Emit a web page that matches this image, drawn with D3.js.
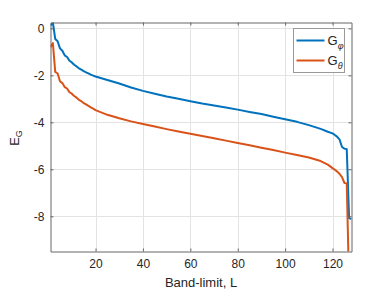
<!DOCTYPE html>
<html lang="en">
<head>
    <script src="https://d3js.org/d3.v7.min.js"></script>
    <style>
        body { margin: 0; background: #fff; }
        text { font-family: "Liberation Sans", Arial, sans-serif; fill: #262626; }
        .grid line { stroke: #e3e3e3; stroke-width: 1; }
        .line { fill: none; stroke-width: 2; stroke-linejoin: round; }
    </style>
</head>
<body>
<div id="chart"></div>
<script>
    var L = [1, 2, 3, 4, 5, 6, 7, 8, 9, 10, 11, 12, 13, 14, 15, 16, 17, 18, 19, 20,
             25, 30, 35, 40, 45, 50, 55, 60, 65, 70, 75, 80, 85, 90, 95, 100, 105, 110, 115,
             118, 120, 121, 122, 123, 124, 125, 126, 127, 128];
    var gPhi = [0.12, 0.25, -0.45, -0.55, -0.85, -0.95, -1.15, -1.22, -1.38, -1.45, -1.55, -1.62, -1.7, -1.76, -1.82, -1.87, -1.92, -1.97, -2.01, -2.05,
                -2.2, -2.35, -2.52, -2.66, -2.78, -2.9, -3.0, -3.1, -3.2, -3.28, -3.37, -3.46, -3.56, -3.65, -3.76, -3.87, -3.98, -4.12, -4.28,
                -4.4, -4.47, -4.54, -4.62, -4.74, -5.05, -5.12, -5.15, -8.08, -8.12];
    var gTheta = [-0.8, -0.63, -1.85, -1.92, -2.25, -2.33, -2.5, -2.56, -2.72, -2.78, -2.88, -2.95, -3.04, -3.1, -3.18, -3.24, -3.3, -3.36, -3.42, -3.48,
                  -3.68, -3.83, -3.96, -4.07, -4.18, -4.29, -4.39, -4.49, -4.58, -4.68, -4.78, -4.88, -4.98, -5.08, -5.18, -5.29, -5.39, -5.5, -5.65,
                  -5.8, -5.95, -6.02, -6.1, -6.2, -6.33, -6.58, -6.6, -11, -12];
    var xTicks = [20, 40, 60, 80, 100, 120];
    var yTicks = [0, -2, -4, -6, -8];

    var w = 388, h = 291;
    var pLeft = 50.5, pRight = 351.5, pTop = 22.5, pBottom = 251.5;

    var svg = d3.select("#chart").append("svg")
        .attr("width", w)
        .attr("height", h);

    var x = d3.scaleLinear().domain([1, 128]).range([pLeft, pRight]);
    var y = d3.scaleLinear().domain([-9.5, 0.25]).range([pBottom, pTop]);

    // grid
    var grid = svg.append("g").attr("class", "grid");
    grid.selectAll(".gx").data(xTicks).enter().append("line")
        .attr("x1", d => Math.round(x(d)) + 0.5).attr("x2", d => Math.round(x(d)) + 0.5)
        .attr("y1", pTop).attr("y2", pBottom);
    grid.selectAll(".gy").data(yTicks).enter().append("line")
        .attr("y1", d => Math.round(y(d)) + 0.5).attr("y2", d => Math.round(y(d)) + 0.5)
        .attr("x1", pLeft).attr("x2", pRight);

    svg.append("clipPath").attr("id", "clip")
        .append("rect").attr("x", pLeft).attr("y", pTop)
        .attr("width", pRight - pLeft).attr("height", pBottom - pTop);

    var line = d3.line()
        .x((d, i) => x(L[i]))
        .y(d => y(d));

    svg.append("path").datum(gPhi)
        .attr("class", "line").attr("stroke", "#0072BD")
        .attr("clip-path", "url(#clip)")
        .attr("d", line);
    svg.append("path").datum(gTheta)
        .attr("class", "line").attr("stroke", "#D95319")
        .attr("clip-path", "url(#clip)")
        .attr("d", line);

    // axes, ticks inside, box on
    var axisColor = "#666";
    function styleAxis(g) {
        g.select(".domain").attr("stroke", axisColor);
        g.selectAll(".tick line").attr("stroke", axisColor);
        g.selectAll(".tick text").style("font-size", "12px").attr("fill", "#262626");
    }
    svg.append("g")
        .attr("transform", `translate(0,${pBottom})`)
        .call(d3.axisBottom(x).tickValues(xTicks).tickSizeInner(-3).tickSizeOuter(0).tickPadding(8))
        .call(styleAxis);
    svg.append("g")
        .attr("transform", `translate(0,${pTop})`)
        .call(d3.axisTop(x).tickValues(xTicks).tickSizeInner(-3).tickSizeOuter(0).tickFormat(""))
        .call(styleAxis);
    svg.append("g")
        .attr("transform", `translate(${pLeft},0)`)
        .call(d3.axisLeft(y).tickValues(yTicks).tickSizeInner(-3).tickSizeOuter(0).tickPadding(6)
            .tickFormat(d => d3.format("d")(d).replace("−", "-")))
        .call(styleAxis);
    svg.append("g")
        .attr("transform", `translate(${pRight},0)`)
        .call(d3.axisRight(y).tickValues(yTicks).tickSizeInner(-3).tickSizeOuter(0).tickFormat(""))
        .call(styleAxis);

    // labels
    svg.append("text")
        .attr("x", (pLeft + pRight) / 2).attr("y", 287)
        .attr("text-anchor", "middle")
        .style("font-size", "13px")
        .text("Band-limit, L");

    var yl = svg.append("text")
        .attr("transform", "translate(19,138) rotate(-90)")
        .attr("text-anchor", "middle")
        .style("font-size", "13px");
    yl.append("tspan").text("E");
    yl.append("tspan").attr("dy", 3).style("font-size", "9px").text("G");

    // legend
    var legend = svg.append("g").attr("transform", "translate(293.5,28.5)");
    legend.append("rect")
        .attr("width", 51).attr("height", 44)
        .attr("fill", "#fff").attr("stroke", "#999").attr("stroke-width", 1);
    var items = [{ name: "φ", color: "#0072BD" }, { name: "θ", color: "#D95319" }];
    items.forEach((it, i) => {
        var row = legend.append("g").attr("transform", `translate(0,${12 + i * 20})`);
        row.append("line")
            .attr("x1", 3).attr("x2", 31).attr("y1", 0).attr("y2", 0)
            .attr("stroke", it.color).attr("stroke-width", 2);
        var t = row.append("text").attr("x", 34).attr("y", 4).style("font-size", "13px");
        t.append("tspan").text("G");
        t.append("tspan").attr("dy", 4).style("font-size", "9px").style("font-style", "italic").text(it.name);
    });
</script>
</body>
</html>
